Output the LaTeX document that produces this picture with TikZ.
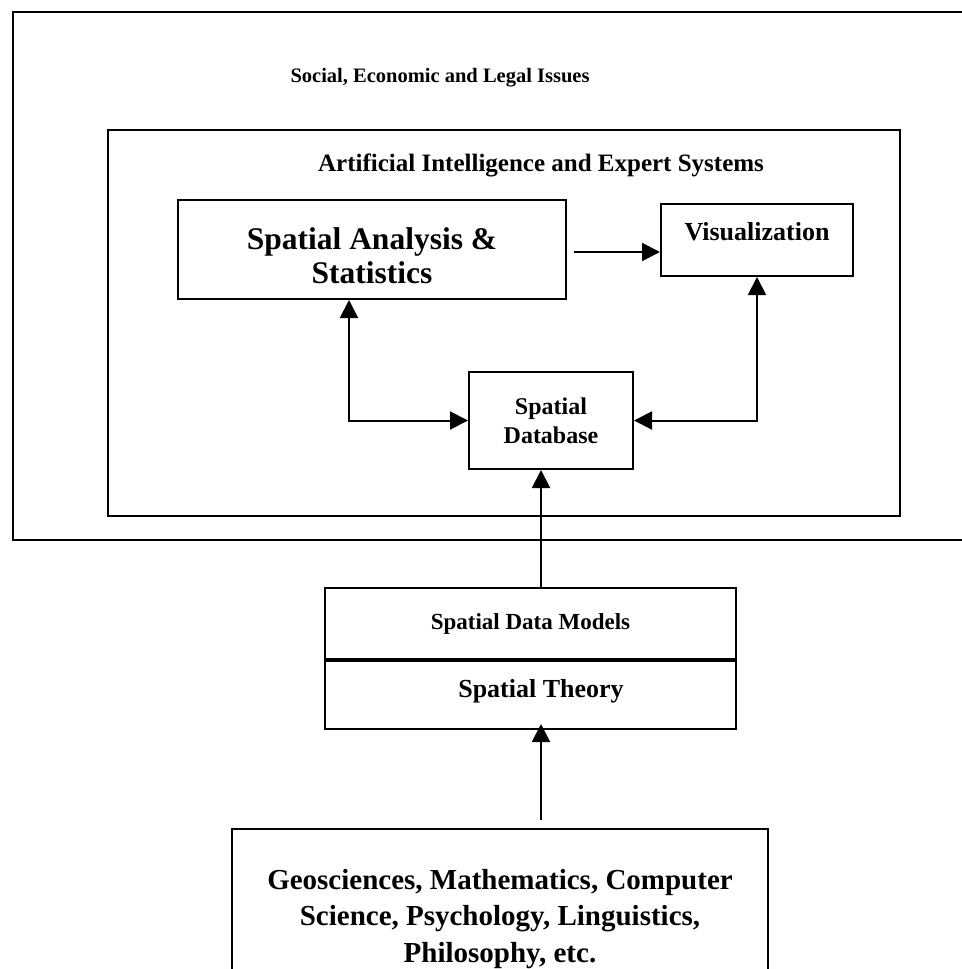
\documentclass[tikz,border=0pt]{standalone}
\usepackage{fontspec}
\setmainfont{Liberation Serif}
\usetikzlibrary{positioning,arrows.meta}

\begin{document}
\begin{tikzpicture}[x=1pt,y=-1pt,
    box/.style={draw,line width=2pt,inner sep=0pt},
    lbl/.style={font=\fontsize{23}{28}\selectfont\bfseries,align=center},
    biglbl/.style={font=\fontsize{29}{36.5}\selectfont\bfseries,align=center},
    arr/.style={line width=2pt,-{Triangle[length=18pt,width=18pt]}},
    darr/.style={line width=2pt,{Triangle[length=18pt,width=18pt]}-{Triangle[length=18pt,width=18pt]}}]
  \useasboundingbox (0,0) rectangle (961,969);
  % frames
  \node[box,minimum width=962,minimum height=528] (issuesframe) at (494,276) {};
  \node[lbl,font=\fontsize{20.5}{25}\selectfont\bfseries] (issues) at (440,78) {Social, Economic and Legal Issues};
  \node[box,minimum width=792,minimum height=386] (aiframe) at (504,323) {};
  \node[lbl,font=\fontsize{25}{30}\selectfont\bfseries] (ai) at (541,165) {Artificial Intelligence and Expert Systems};
  % inner boxes
  \node[box,minimum width=388,minimum height=99] (sa) at (372,249.5) {};
  \node[biglbl,font=\fontsize{31.5}{34}\selectfont\bfseries] (satext) at (372,256) {Spatial Analysis \&\\Statistics};
  \node[box,minimum width=192,minimum height=72] (viz) at (757,240) {};
  \node[lbl,font=\fontsize{26}{30}\selectfont\bfseries] (viztext) at (757,232) {Visualization};
  \node[box,minimum width=164,minimum height=97,lbl,font=\fontsize{24}{29}\selectfont\bfseries] (db) at (551,420.5) {Spatial\\Database};
  % lower stack
  \node[box,minimum width=411,minimum height=71,lbl] (dm) at (530.5,623.5) {Spatial Data Models};
  \node[box,minimum width=411,minimum height=68,below=0pt of dm] (theory) {};
  \node[lbl,font=\fontsize{26}{30}\selectfont\bfseries] (theorytext) at (541,691) {Spatial Theory};
  \node[box,anchor=north,minimum width=536,minimum height=170] (fields) at (500,828) {};
  \node[biglbl] (fieldstext) at (500,919) {Geosciences, Mathematics, Computer\\Science, Psychology, Linguistics,\\Philosophy, etc.};
  % connectors
  \coordinate (sastart) at (574,252);
  \draw[arr] (sastart) -- (sastart -| viz.west);
  \draw[darr] (sa.south -| 349,0) |- (db.west);
  \draw[darr] (viz.south) |- (db.east);
  \draw[arr] ([xshift=-10pt]db.south |- dm.north) -- ([xshift=-10pt]db.south);
  \coordinate (fieldstop) at (541,820);
  \draw[arr] (fieldstop) -- ([yshift=6pt]fieldstop |- theory.south);
\end{tikzpicture}
\end{document}
